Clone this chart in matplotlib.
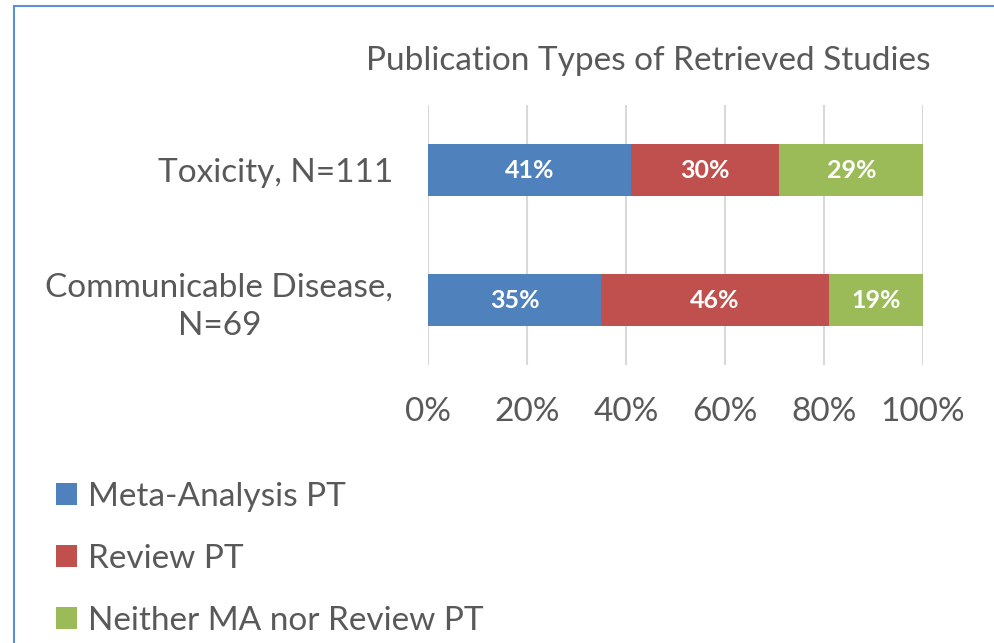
import numpy as np
import matplotlib.pyplot as plt
from matplotlib.patches import Rectangle

categories = ['Communicable Disease,\nN=69', 'Toxicity, N=111']
meta_analysis = [35, 41]
review = [46, 30]
neither = [19, 29]
series_names = ['Meta-Analysis PT', 'Review PT', 'Neither MA nor Review PT']
colors = ['#4F81BD', '#C0504D', '#9BBB59']
x_ticks = [0, 20, 40, 60, 80, 100]

plt.rcParams['font.family'] = ['Lato', 'DejaVu Sans']
text_color = '#595959'

fig = plt.figure(figsize=(9.94, 6.43), dpi=100)
ax = fig.add_axes([0.4306, 0.4323, 0.498, 0.4044])

y = np.arange(len(categories))
left = np.zeros(len(categories))
for vals, name, c in zip([meta_analysis, review, neither], series_names, colors):
    bars = ax.barh(y, vals, 0.4, left=left, color=c, label=name, zorder=3)
    for rect, v in zip(bars, vals):
        ax.text(rect.get_x() + rect.get_width() / 2, rect.get_y() + rect.get_height() / 2,
                '{}%'.format(v), ha='center', va='center', color='white',
                fontsize=18, fontweight='bold', zorder=4)
    left += np.array(vals)

ax.set_xlim(0, 100)
ax.set_ylim(-0.5, 1.5)
ax.set_xticks(x_ticks)
ax.set_xticklabels(['{}%'.format(t) for t in x_ticks])
ax.set_yticks(y)
ax.set_yticklabels(categories, multialignment='center', linespacing=1.33)
ax.tick_params(axis='both', length=0, labelsize=24, colors=text_color)
ax.tick_params(axis='x', pad=23)
ax.tick_params(axis='y', pad=25)
ax.grid(True, axis='x', color='#D9D9D9', lw=1.5, zorder=0)
for s in ax.spines.values():
    s.set_visible(False)

fig.text(0.652, 0.905, 'Publication Types of Retrieved Studies', ha='center', va='center',
         fontsize=24, color=text_color)

fig.legend(loc='upper left', bbox_to_anchor=(0.0563, 0.251), frameon=False,
           fontsize=24, handlelength=0.63, handleheight=0.63, handletextpad=0.33,
           labelspacing=0.96, labelcolor=text_color, borderaxespad=0, borderpad=0)

fig.patches.append(Rectangle((14 / 994, -0.1), 1.2, 1 - 6 / 643 + 0.1,
                             transform=fig.transFigure, fill=False,
                             edgecolor='#5B8FD6', lw=1.5))

fig.savefig('out.png', dpi=100)
